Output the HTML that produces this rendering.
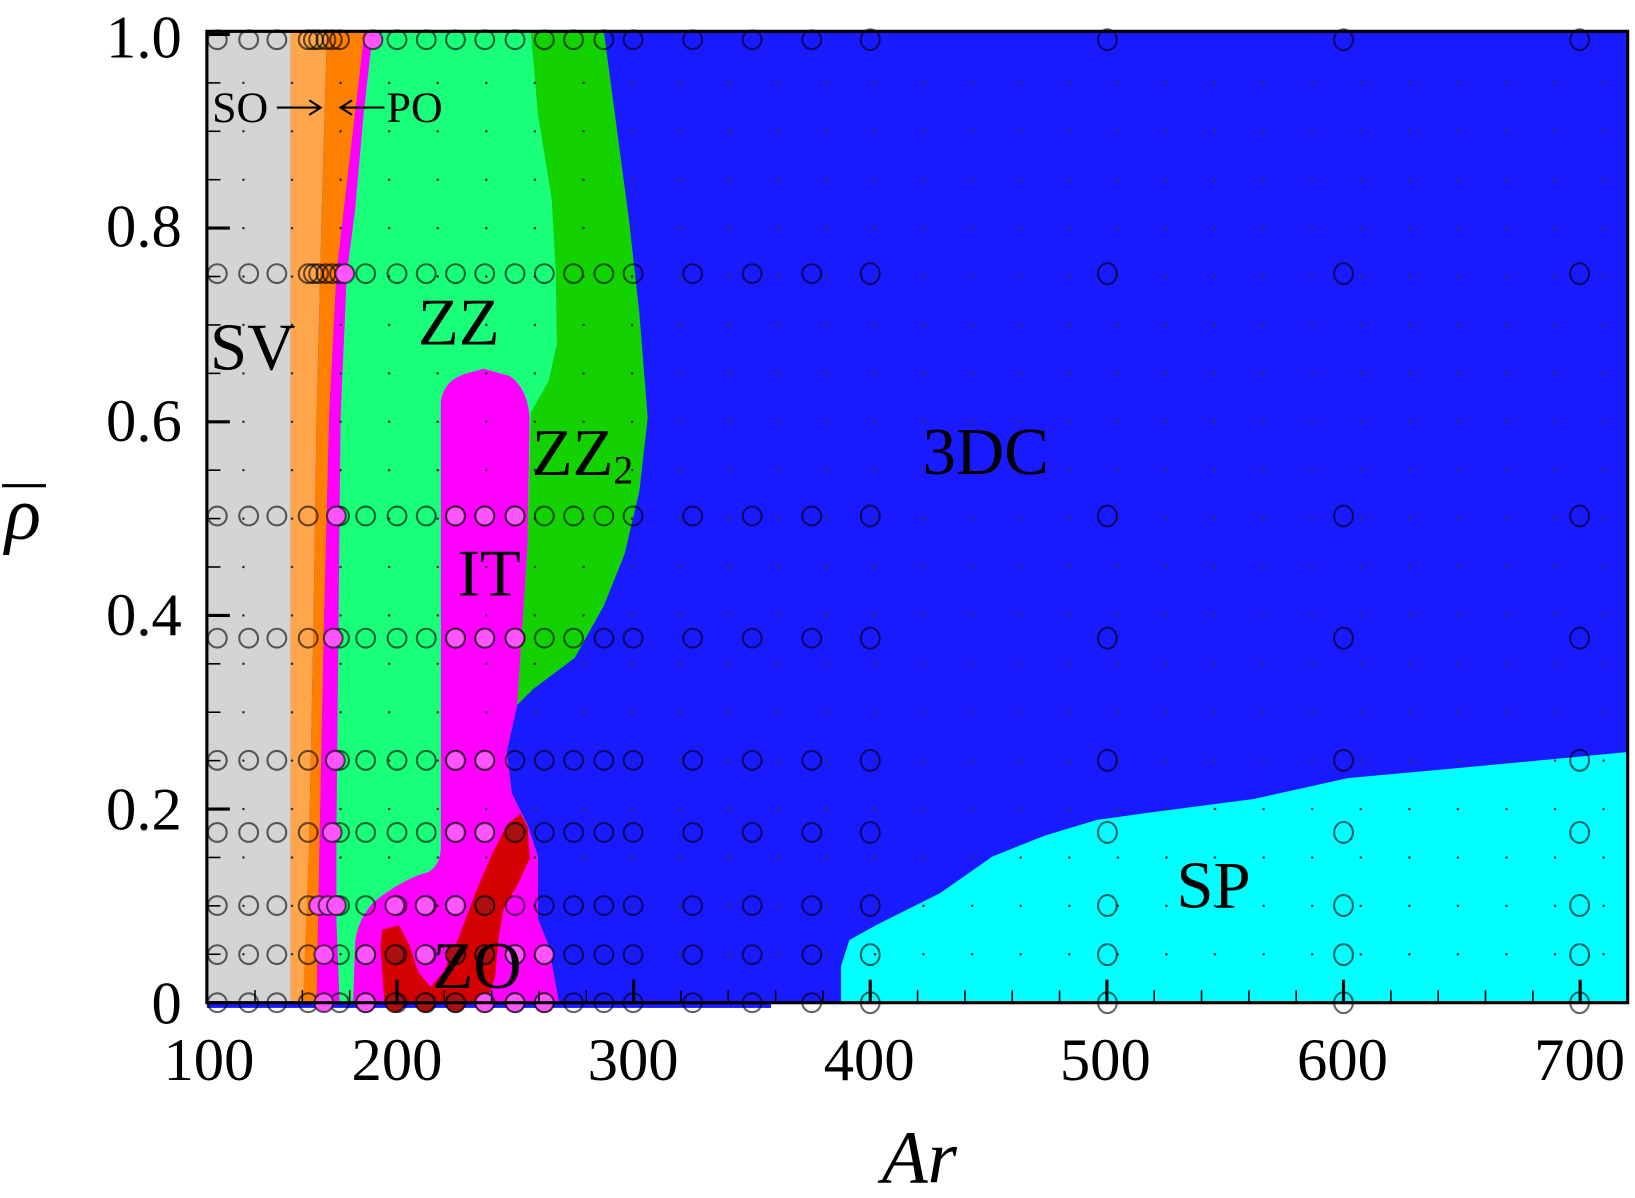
<!DOCTYPE html>
<html><head><meta charset="utf-8"><style>
html,body{margin:0;padding:0;background:#fff;}
svg{display:block;}
text{font-family:"Liberation Serif",serif;fill:#000;}
</style></head><body>
<svg id="s" width="1635" height="1198" viewBox="0 0 1565 1147" preserveAspectRatio="none" xmlns="http://www.w3.org/2000/svg">
<rect x="0" y="0" width="1565" height="1147" fill="#fff"/>
<rect x="198" y="30" width="1360" height="930" fill="#1a1aff"/>
<rect x="198" y="958" width="540" height="7" fill="#1a1aff"/>
<polygon fill="#00ffff" points="805,960 805,925 813,900 840,885 900,855 950,820 1000,800 1050,785 1100,778 1200,765 1290,745 1400,735 1558,720 1558,960"/>
<polygon fill="#14d200" points="508,30 578,30 590,120 602,210 612,300 620,400 612,470 598,530 578,580 550,630 510,660 495,675 505,520 507,30"/>
<polygon fill="#1aff7a" points="330,30 508,30 515,110 528,190 532,260 533,330 525,365 508,395 505,520 495,675 485,720 490,760 505,790 515,820 515,880 525,905 535,960 318,960 316,700 318,500 324,300 338,200 348,100 355,30"/>
<polygon fill="#ff00ff" points="349,30 357,30 348,110 340,200 332,262 326,400 324,600 322,800 322,880 325,960 303,960 306,800 310,600 315,400 322,262 335,150"/>
<path fill="#ff00ff" d="M422,385 Q424,365 445,358 L463,353 L488,360 Q505,372 507,400 L505,520 L495,675 L485,720 L490,760 L505,790 L515,820 L515,880 L525,905 L535,960 L338,960 L340,900 Q345,872 365,858 Q390,840 410,835 Q422,828 422,810 Z"/>
<polygon fill="#ffa64d" points="278,30 313,30 308,200 303,400 300,600 296,800 293,960 278,960"/>
<polygon fill="#ff7f00" points="313,30 349,30 335,150 322,262 315,400 310,600 306,800 303,960 290,960 296,800 300,600 303,400 308,200"/>
<rect x="198" y="30" width="80" height="930" fill="#d4d4d4"/>
<polygon fill="#d40000" points="498,779 505,792 507,822 496,846 482,870 477,900 474,935 465,960 368,960 364,905 366,890 382,886 392,905 400,930 412,945 425,930 440,895 455,855 470,820 485,790"/>
<g id="dots" fill="#333"></g>
<g id="circ" stroke="#000" stroke-opacity="0.6" stroke-width="2"></g>
<rect x="198" y="30" width="1360" height="930" fill="none" stroke="#000" stroke-width="3"/>
<g id="ticks" stroke="#000"></g>
<g font-size="58" text-anchor="end">
<text x="174" y="55">1.0</text>
<text x="174" y="236">0.8</text>
<text x="174" y="422">0.6</text>
<text x="174" y="608">0.4</text>
<text x="174" y="794">0.2</text>
<text x="174" y="980">0</text>
</g>
<g font-size="58" text-anchor="middle">
<text x="200" y="1034">100</text>
<text x="380" y="1034">200</text>
<text x="606" y="1034">300</text>
<text x="832" y="1034">400</text>
<text x="1058" y="1034">500</text>
<text x="1285" y="1034">600</text>
<text x="1512" y="1034">700</text>
</g>
<text x="880" y="1132" font-size="72" font-style="italic" text-anchor="middle">Ar</text>
<text x="22" y="516" font-size="72" font-style="italic" text-anchor="middle">ρ</text>
<line x1="2" y1="465" x2="44" y2="465" stroke="#000" stroke-width="3"/>
<text x="203" y="117" font-size="42">SO</text>
<line x1="265" y1="103" x2="305" y2="103" stroke="#000" stroke-width="2"/>
<path d="M296,96 L307,103 L296,110" fill="none" stroke="#000" stroke-width="2"/>
<line x1="328" y1="103" x2="368" y2="103" stroke="#000" stroke-width="2"/>
<path d="M337,96 L326,103 L337,110" fill="none" stroke="#000" stroke-width="2"/>
<text x="370" y="117" font-size="42">PO</text>
<text x="201" y="354" font-size="64">SV</text>
<text x="400" y="330" font-size="64">ZZ</text>
<text x="509" y="455" font-size="64">ZZ<tspan font-size="38" dy="8">2</tspan></text>
<text x="883" y="454" font-size="64">3DC</text>
<text x="438" y="570" font-size="64">IT</text>
<text x="414" y="946" font-size="64">ZO</text>
<text x="1126" y="869" font-size="64">SP</text>
</svg>
<script>
var NS="http://www.w3.org/2000/svg";
function el(p,t,a){var e=document.createElementNS(NS,t);for(var k in a)e.setAttribute(k,a[k]);p.appendChild(e);return e;}
var tk=document.getElementById("ticks");
for(var i=0;i<=20;i++){var y=960-i*46.35;var maj=(i%4==0);el(tk,"line",{x1:198,x2:maj?220:211,y1:y,y2:y,"stroke-width":maj?3:1.5});}
for(var a=140;a<=720;a+=20){var x=380+(a-200)*2.265;if(x<200||x>1556)continue;var maj=(a%100==0);el(tk,"line",{x1:x,x2:x,y1:960,y2:maj?938:948,"stroke-width":maj?3:1.5});}
var dg=document.getElementById("dots");
var dx=[];for(var x=233;x<1556;x+=46.5)dx.push(x);
for(var i=1;i<20;i++){var y=960-i*46.35;for(var j=0;j<dx.length;j++)el(dg,"circle",{cx:dx[j],cy:y,r:1.2});}
var cg=document.getElementById("circ");
var rows=[38,262,494,611,728,797,867,914,960];
var cols=[208,238,265,295,300,305,312,318,325,350,380,408,436,464,493,521,549,578,606,663,720,777,833,1060,1286,1512];
var P="#ff55ff",R="#aa1010";
var special={
0:{357:P},1:{330:P},2:{322:P,436:P,464:P,493:P},3:{319:P,436:P,464:P,493:P},
4:{321:P,436:P,464:P},5:{318:P,436:P,464:P,493:R},6:{305:P,314:P,322:P,378:P,407:P,436:P,464:R},
7:{310:P,350:P,378:R,407:P,436:R,464:R,493:P,521:P},8:{310:P,350:P,378:R,407:R,436:R,464:P,493:P,521:P}};
for(var r=0;r<rows.length;r++){
 for(var j=0;j<cols.length;j++){var x=cols[j];if(r>=2&&x>=300&&x<=318)continue;if(r==0&&x>340&&x<357)continue;
  el(cg,"ellipse",{cx:x,cy:rows[r],rx:9,ry:x>800?10:9,fill:"none"});}
 var s=special[r];for(var k in s){el(cg,"circle",{cx:+k,cy:rows[r],r:9,fill:s[k]});}
}
</script>
</body></html>
